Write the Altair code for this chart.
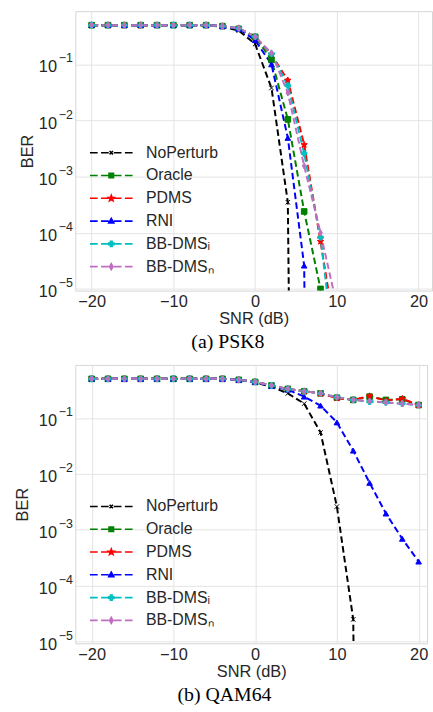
import json
import math
import altair as alt
import pandas as pd

# ---------------- data ----------------
SNR_DB = list(range(-20, 21, 2))
SERIES = ["NoPerturb", "Oracle", "PDMS", "RNI", "BB-DMS_I", "BB-DMS_N"]
LEGEND_LABELS = ["NoPerturb", "Oracle", "PDMS", "RNI", "BB-DMSᵢ", "BB-DMSₙ"]
COLORS = ["#000000", "#008000", "#ff0000", "#0000ff", "#00bfbf", "#bf6fbf"]
MARKERS = ["x", "square", "star", "triangle-up", "plus", "thin_diamond"]
X_TICKS = [-20, -10, 0, 10, 20]
Y_EXPONENTS = [-1, -2, -3, -4, -5]
CAPTIONS = ["(a)  PSK8", "(b)  QAM64"]

# PSK8 (BER; 0 = no errors, clipped like matplotlib's log axis)
PSK8_NOPERTURB = [0.5] * 8 + [0.47, 0.40, 0.23, 0.038, 3.5e-4, 0, 0, 0, 0, 0, 0, 0, 0]
PSK8_ORACLE = [0.5] * 8 + [0.48, 0.43, 0.31, 0.12, 0.0105, 2.4e-4, 1.0e-5, 0, 0, 0, 0, 0, 0]
PSK8_PDMS = [0.5] * 8 + [0.48, 0.44, 0.31, 0.15, 0.052, 3.7e-3, 7.0e-5, 1.1e-6, 0, 0, 0, 0, 0]
PSK8_RNI = [0.5] * 8 + [0.48, 0.43, 0.27, 0.10, 4.9e-3, 2.6e-5, 0, 0, 0, 0, 0, 0, 0]
PSK8_BBDMS_I = [0.5] * 8 + [0.48, 0.44, 0.31, 0.155, 0.042, 2.6e-3, 8.3e-5, 3.0e-7, 0, 0, 0, 0, 0]
PSK8_BBDMS_N = [0.5] * 8 + [0.48, 0.44, 0.31, 0.16, 0.031, 1.55e-3, 1.0e-4, 5.0e-6, 0, 0, 0, 0, 0]

# QAM64
QAM64_NOPERTURB = [0.5] * 9 + [0.48, 0.43, 0.36, 0.275, 0.18, 0.055, 2.6e-3, 2.5e-5, 0, 0, 0, 0]
QAM64_ORACLE = [0.5] * 9 + [0.48, 0.44, 0.38, 0.33, 0.30, 0.275, 0.23, 0.21, 0.24, 0.21, 0.215, 0.17]
QAM64_PDMS = [0.5] * 9 + [0.48, 0.44, 0.38, 0.33, 0.30, 0.275, 0.225, 0.21, 0.245, 0.205, 0.22, 0.17]
QAM64_RNI = [0.5] * 9 + [0.48, 0.44, 0.37, 0.32, 0.24, 0.166, 0.083, 0.026, 6.9e-3, 1.95e-3, 6.9e-4, 2.7e-4]
QAM64_BBDMS_I = [0.5] * 9 + [0.48, 0.44, 0.38, 0.33, 0.30, 0.275, 0.235, 0.21, 0.195, 0.19, 0.18, 0.17]
QAM64_BBDMS_N = [0.5] * 9 + [0.48, 0.44, 0.38, 0.33, 0.30, 0.275, 0.235, 0.21, 0.20, 0.19, 0.18, 0.17]

PSK8 = [PSK8_NOPERTURB, PSK8_ORACLE, PSK8_PDMS, PSK8_RNI, PSK8_BBDMS_I, PSK8_BBDMS_N]
QAM64 = [QAM64_NOPERTURB, QAM64_ORACLE, QAM64_PDMS, QAM64_RNI, QAM64_BBDMS_I, QAM64_BBDMS_N]

BER_FLOOR = 1e-30  # nonpositive values clipped (as matplotlib log axis does)

# ---------------- styling helpers ----------------
FONT = "Liberation Sans"
TEXT = "#262626"


def star_path(r_out, r_in):
    pts = []
    for k in range(10):
        r = r_out if k % 2 == 0 else r_in
        a = math.radians(-90 + 36 * k)
        pts.append(f"{r * math.cos(a):.3f},{r * math.sin(a):.3f}")
    return "M" + "L".join(pts) + "Z"


def plus_path(h, w):
    return f"M{-w},{-h}H{w}V{-w}H{h}V{w}H{w}V{h}H{-w}V{w}H{-h}V{-w}H{-w}Z"


PLOT_SHAPES = {
    "x": "M-0.8,-0.8L0.8,0.8M-0.8,0.8L0.8,-0.8",
    "square": "square",
    "star": star_path(1.2, 0.5),
    "triangle-up": "triangle-up",
    "plus": "cross",
    "thin_diamond": "M0,-1.1L0.65,0L0,1.1L-0.65,0Z",
}
LEGEND_DASHES = "M-1,0H-0.64M-0.48,0H-0.12M0.12,0H0.48M0.64,0H1"
LEGEND_MARKS = {
    "x": "M-0.08,-0.08L0.08,0.08M-0.08,0.08L0.08,-0.08",
    "square": "M-0.105,-0.105H0.105V0.105H-0.105Z",
    "star": star_path(0.14, 0.06),
    "triangle-up": "M0,-0.13L0.12,0.085L-0.12,0.085Z",
    "plus": plus_path(0.12, 0.04),
    "thin_diamond": "M0,-0.14L0.08,0L0,0.14L-0.08,0Z",
}


def lookup_expr(keys, values, field="datum.value"):
    expr = json.dumps(values[-1])
    for k, v in reversed(list(zip(keys[:-1], values[:-1]))):
        expr = f"{field} === {json.dumps(k)} ? {json.dumps(v)} : ({expr})"
    return expr


LABEL_EXPR = lookup_expr(SERIES, LEGEND_LABELS)
Y_TICKS = [10.0 ** e for e in Y_EXPONENTS]
SUP_EXPR = "'\u2212' + abs(round(log(datum.value) / LN10))"


def panel(values, x_max, width, height, caption, cap_dx, ytitle_pad):
    rows = []
    for s, vals in zip(SERIES, values):
        for x, v in zip(SNR_DB, vals):
            rows.append({"snr": x, "ber": max(v, BER_FLOOR), "series": s})
    df = pd.DataFrame(rows)

    xscale = alt.Scale(domain=[-22, x_max], nice=False, zero=False)
    xaxis = alt.Axis(values=X_TICKS, title="SNR (dB)", grid=True, ticks=False, domain=False,
                     labelFontSize=16.5, labelPadding=3, titleFontSize=16.5,
                     titlePadding=1, titleFontWeight="normal")
    yscale = alt.Scale(type="log", domain=[10 ** -5.03, 10 ** -0.052], nice=False)
    axis10 = alt.Axis(orient="left", values=Y_TICKS, labelExpr="'10'", grid=True, ticks=False,
                      domain=False, labelFontSize=16.5, labelPadding=19, labelOffset=2.6,
                      title="BER", titleFontSize=16.5, titleFontWeight="normal",
                      titlePadding=ytitle_pad)
    axis_sup = alt.Axis(orient="left", values=Y_TICKS, labelExpr=SUP_EXPR, grid=False,
                        ticks=False, domain=False, labelFontSize=12.5, labelPadding=3,
                        labelOffset=-6.5, title=None)

    legend = alt.Legend(
        title=None, orient="none", legendX=13.8, legendY=131.5, padding=0, offset=0,
        clipHeight=22.7, rowPadding=0, symbolSize=1849, symbolStrokeWidth=1.6,
        labelFontSize=16, labelFont=FONT, labelColor=TEXT, labelOffset=12.5,
        labelExpr=LABEL_EXPR,
    )
    color_scale = alt.Scale(domain=SERIES, range=COLORS)
    x_enc = alt.X("snr:Q", scale=xscale, axis=xaxis)

    # legend-only layer (first, so its legend settings win): no rows survive the filter,
    # the legend entries come from the scale domain
    key = alt.Chart(df).transform_filter("false").mark_point(
        size=1849, strokeWidth=1.6, opacity=1, clip=True
    ).encode(
        x=x_enc,
        y=alt.Y("ber:Q", scale=yscale, axis=axis_sup),
        fill=alt.Fill("series:N", scale=color_scale, legend=legend),
        stroke=alt.Stroke("series:N", scale=color_scale, legend=legend),
        shape=alt.Shape("series:N",
                        scale=alt.Scale(domain=SERIES, range=[LEGEND_DASHES + LEGEND_MARKS[m] for m in MARKERS]),
                        legend=legend),
    )
    lines = alt.Chart(df).mark_line(strokeDash=[6.5, 3.5], strokeWidth=2, clip=True).encode(
        x=x_enc,
        y=alt.Y("ber:Q", scale=yscale, axis=axis10),
        color=alt.Color("series:N", scale=color_scale, legend=None),
    )
    layers = [key, lines]
    for s, m in zip(SERIES, MARKERS):
        layers.append(
            alt.Chart(df).transform_filter(alt.datum.series == s)
            .mark_point(shape=PLOT_SHAPES[m], size=32, strokeWidth=1, opacity=1, clip=True)
            .encode(
                x=x_enc,
                y=alt.Y("ber:Q", scale=yscale, axis=None),
                fill=alt.Fill("series:N", scale=color_scale, legend=None),
                stroke=alt.Stroke("series:N", scale=color_scale, legend=None),
            )
        )

    return alt.layer(*layers).resolve_axis(y="independent").properties(
        width=width, height=height,
        title=alt.TitleParams(caption, orient="bottom", anchor="middle", font="Liberation Serif",
                              fontSize=20, fontWeight="normal", color="#000000", dx=cap_dx, offset=5),
    )


top = panel(PSK8, 21.64, 360, 282, CAPTIONS[0], -26, 3)
bottom = panel(QAM64, 21.03, 355, 281, CAPTIONS[1], -27, 7.6)

chart = alt.vconcat(top, bottom, spacing=11).resolve_scale(
    color="independent", fill="independent", stroke="independent", shape="independent"
).resolve_legend(fill="independent", stroke="independent", shape="independent").properties(
    padding={"left": 14, "top": 7, "right": 0, "bottom": 0}, background="white"
).configure(font=FONT).configure_view(stroke="#d6d6d6", strokeWidth=1).configure_axis(
    labelColor=TEXT, titleColor=TEXT, labelFont=FONT, titleFont=FONT, gridColor="#e4e4e4", gridWidth=1
)

chart.save("out.html", embed_options={"renderer": "svg", "actions": False})
